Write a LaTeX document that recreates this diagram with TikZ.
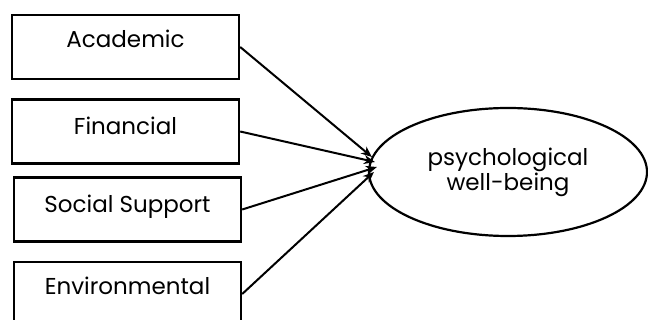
\documentclass[tikz,border=0pt]{standalone}
\usepackage{fontspec}
\setmainfont{Poppins}
\usetikzlibrary{arrows.meta,shapes}
\tikzset {>={Stealth[length=5.5pt,width=4.5pt]}}

\begin{document}
\begin{tikzpicture}[x=0.5pt,y=0.5pt,
  box/.style={draw,line width=1.2pt,minimum width=113.5pt,minimum height=32pt,inner sep=0pt},
  lbl/.style={anchor=base,inner sep=0pt,font=\fontsize{11.5}{13}\selectfont},
  goal/.style={draw,ellipse,line width=1.1pt,minimum width=139pt,minimum height=64pt,
    align=center,font=\fontsize{11.5}{12.5}\selectfont}]
\clip (0,0) rectangle (648,-320);
\foreach \n/\t/\x/\y/\b in {acad/Academic/125.5/47/48,
    fin/Financial/125.5/131.5/135,
    soc/Social Support/127.5/209.5/213,
    env/Environmental/127.5/294/295}
  {\node[box] (\n) at (\x,-\y) {};
   \node[lbl] (\n-t) at (\x,-\b) {\t};}
\node[goal] (psy) at (508,-172) {psychological\\well-being};
\foreach \n/\dx/\dy in {acad/4/15,fin/7/10,soc/9/5,env/6/0}
  \draw[->,line width=1pt] (\n.east) -- ([shift={(\dx,\dy)}]psy.west);
\end{tikzpicture}
\end{document}
